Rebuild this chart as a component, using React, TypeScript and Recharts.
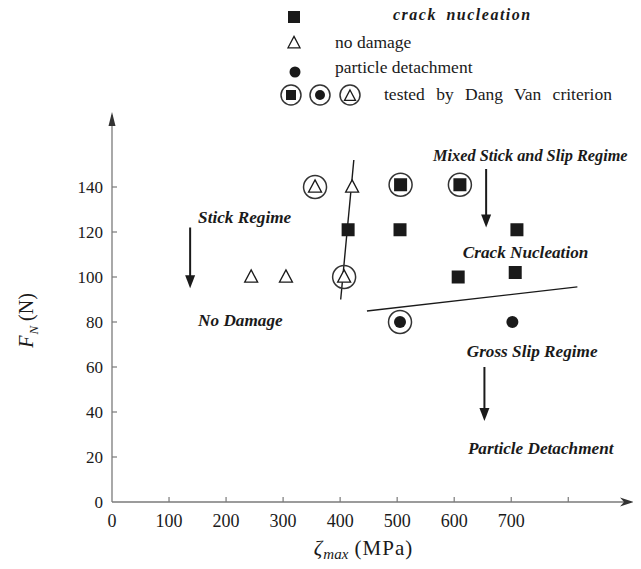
import React from 'react';
import {
  ScatterChart,
  Scatter,
  XAxis,
  YAxis,
  ReferenceLine,
  ReferenceDot,
  Legend,
  Label,
} from 'recharts';

const FONT = '"Liberation Serif", "Times New Roman", Times, serif';
const INK = '#1a1a1a';
const AXIS = '#7a7a7a';

// ---- axis ticks ----
const xTicks = [0, 100, 200, 300, 400, 500, 600, 700, 800];
const xTickLabels = ['0', '100', '200', '300', '400', '500', '600', '700', ''];
const yTicks = [0, 20, 40, 60, 80, 100, 120, 140];
const yTickLabels = ['0', '20', '40', '60', '80', '100', '120', '140'];

// ---- data (x = zeta_max in MPa, y = F_N in N) ----
const crackNucleation = [
  { x: 414, y: 121 },
  { x: 505, y: 121 },
  { x: 710, y: 121 },
  { x: 607, y: 100 },
  { x: 707, y: 102 },
  { x: 506, y: 141 },
  { x: 610, y: 141 },
];
const noDamage = [
  { x: 244, y: 100 },
  { x: 305, y: 100 },
  { x: 407, y: 100 },
  { x: 356, y: 140 },
  { x: 421, y: 140 },
];
const particleDetachment = [
  { x: 505, y: 80 },
  { x: 702, y: 80 },
];
const dangVanTested = [
  { x: 356, y: 140 },
  { x: 407, y: 100 },
  { x: 506, y: 141 },
  { x: 610, y: 141 },
  { x: 505, y: 80 },
];

// regime boundaries
const stickBoundary = [
  { x: 424, y: 152 },
  { x: 401, y: 90 },
];
const grossSlipBoundary = [
  { x: 447, y: 84.9 },
  { x: 816, y: 95.6 },
];

// regime arrows (x, start y, tip y)
const regimeArrows = [
  { x: 137, from: 122, to: 95 },
  { x: 656, from: 148, to: 122 },
  { x: 653, from: 60, to: 36 },
];

// annotation texts (left / baseline anchor in data units)
const annotations = [
  { x: 151, y: 124.1, text: 'Stick Regime', size: 17.2 },
  { x: 151, y: 78.2, text: 'No Damage', size: 17.2 },
  { x: 563, y: 151.7, text: 'Mixed Stick and Slip Regime', size: 16.3 },
  { x: 615, y: 108.3, text: 'Crack Nucleation', size: 17.2 },
  { x: 622, y: 64.6, text: 'Gross Slip Regime', size: 17.2 },
  { x: 624, y: 21.3, text: 'Particle Detachment', size: 17.2 },
];

const legendLabels = [
  'crack nucleation',
  'no damage',
  'particle detachment',
  'tested by Dang Van criterion',
];

const X_MAX = 910;
const Y_MAX = 172;

// ---- marker shapes ----
const squarePath = (cx: number, cy: number, s: number) => (
  <rect x={cx - s / 2} y={cy - s / 2} width={s} height={s} fill={INK} />
);
const trianglePath = (cx: number, cy: number, s: number) => (
  <path
    d={`M${cx},${cy - s * 0.55} L${cx + s / 2},${cy + s * 0.4} L${cx - s / 2},${cy + s * 0.4} Z`}
    fill="#fff"
    stroke={INK}
    strokeWidth={1.3}
  />
);
const circlePath = (cx: number, cy: number, r: number) => (
  <circle cx={cx} cy={cy} r={r} fill={INK} />
);
const ringPath = (cx: number, cy: number, r: number) => (
  <circle cx={cx} cy={cy} r={r} fill="none" stroke="#333" strokeWidth={1.5} />
);

const SquareShape = (p: any) => squarePath(p.cx, p.cy, 13);
const TriangleShape = (p: any) => trianglePath(p.cx, p.cy, 13);
const CircleShape = (p: any) => circlePath(p.cx, p.cy, 6);
const RingShape = (p: any) => ringPath(p.cx, p.cy, 11.5);

// ---- ticks ----
const XTick = (props: any) => {
  const { x, y, payload } = props;
  const i = xTicks.indexOf(payload.value);
  return (
    <g>
      {payload.value !== 0 && (
        <line x1={x} x2={x} y1={y} y2={y - 5} stroke={AXIS} strokeWidth={1.2} />
      )}
      <text x={x} y={y + 25} textAnchor="middle" style={{ fontFamily: FONT }} fontSize={18} fill={INK}>
        {xTickLabels[i]}
      </text>
    </g>
  );
};

const YTick = (props: any) => {
  const { x, y, payload } = props;
  const i = yTicks.indexOf(payload.value);
  return (
    <g>
      {payload.value !== 0 && (
        <line x1={x} x2={x + 5} y1={y} y2={y} stroke={AXIS} strokeWidth={1.2} />
      )}
      <text x={x - 9} y={y + 6} textAnchor="end" style={{ fontFamily: FONT }} fontSize={17} fill={INK}>
        {yTickLabels[i]}
      </text>
    </g>
  );
};

const YLabel = (props: any) => {
  const vb = props.viewBox || { x: 44, y: 107, width: 60, height: 387 };
  const cx = vb.x - 19;
  const cy = vb.y + vb.height / 2 + 12;
  return (
    <text
      x={cx}
      y={cy}
      transform={`rotate(-90, ${cx}, ${cy})`}
      textAnchor="middle"
      style={{ fontFamily: FONT }}
      fill={INK}
      fontSize={20}
    >
      <tspan fontStyle="italic">F</tspan>
      <tspan fontStyle="italic" fontSize={13} dy={5} dx={1}>
        N
      </tspan>
      <tspan dy={-5}> (N)</tspan>
    </text>
  );
};

const XLabel = (props: any) => {
  const vb = props.viewBox || { x: 104, y: 494, width: 519, height: 30 };
  const cx = vb.x + vb.width / 2 - 8;
  const cy = vb.y + 53;
  return (
    <text x={cx} y={cy} textAnchor="middle" style={{ fontFamily: FONT }} fill={INK} fontSize={21}>
      <tspan fontStyle="italic">ζ</tspan>
      <tspan fontStyle="italic" fontSize={15} dy={4} dx={1}>
        max
      </tspan>
      <tspan dy={-4} letterSpacing={1}> (MPa)</tspan>
    </text>
  );
};

const renderLegend = () => (
  <svg width={625} height={110} style={{ display: 'block', overflow: 'visible', fontFamily: FONT }}>
    {squarePath(286, 9, 12)}
    <text x={385} y={12} fontSize={16} fontStyle="italic" fontWeight="bold" letterSpacing={1.5} wordSpacing={4} fill={INK}>
      {legendLabels[0]}
    </text>
    {trianglePath(286, 35, 12)}
    <text x={327} y={40} fontSize={17.5} fill={INK}>
      {legendLabels[1]}
    </text>
    {circlePath(287, 64, 5.5)}
    <text x={327} y={65} fontSize={17.5} fill={INK}>
      {legendLabels[2]}
    </text>
    {ringPath(283, 87, 10)}
    {squarePath(283, 87, 10)}
    {ringPath(312, 87, 10)}
    {circlePath(312, 87, 5)}
    {ringPath(342, 87, 10)}
    {trianglePath(342, 88, 11)}
    <text x={376} y={92} fontSize={17.5} wordSpacing={7} fill={INK}>
      {legendLabels[3]}
    </text>
  </svg>
);

const AnnotationText = (text: string, size: number) => (p: any) => (
  <text x={p.cx} y={p.cy} style={{ fontFamily: FONT }} fontSize={size} fontStyle="italic" fontWeight="bold" fill={INK}>
    {text}
  </text>
);

const DownArrowHead = (p: any) => (
  <path d={`M${p.cx},${p.cy} L${p.cx + 5},${p.cy - 13} L${p.cx - 5},${p.cy - 13} Z`} fill={INK} />
);
const UpAxisHead = (p: any) => (
  <path d={`M${p.cx},${p.cy - 3} L${p.cx + 3.5},${p.cy + 11} L${p.cx - 3.5},${p.cy + 11} Z`} fill="#333" />
);
const RightAxisHead = (p: any) => (
  <path
    d={`M${p.cx + 3},${p.cy} L${p.cx - 11},${p.cy - 4.5} L${p.cx - 7},${p.cy} L${p.cx - 11},${p.cy + 4.5} Z`}
    fill="#333"
  />
);

export default function App() {
  return (
    <ScatterChart
      width={625}
      height={553}
      margin={{ top: 107, right: 2, bottom: 29, left: 44 }}
      style={{ fontFamily: FONT }}
    >
      <XAxis
        type="number"
        dataKey="x"
        domain={[0, X_MAX]}
        ticks={xTicks}
        tick={XTick}
        tickLine={false}
        tickSize={0}
        tickMargin={0}
        height={30}
        axisLine={{ stroke: AXIS, strokeWidth: 1.3 }}
        interval={0}
        label={<Label content={XLabel} />}
      />
      <YAxis
        type="number"
        dataKey="y"
        domain={[0, Y_MAX]}
        ticks={yTicks}
        tick={YTick}
        tickLine={false}
        tickSize={0}
        tickMargin={0}
        width={60}
        axisLine={{ stroke: AXIS, strokeWidth: 1.3 }}
        interval={0}
        label={<Label content={YLabel} />}
      />
      <Legend
        layout="horizontal"
        verticalAlign="middle"
        align="center"
        content={renderLegend}
        wrapperStyle={{ top: 0, left: 0, width: 625, height: 110, margin: 0, padding: 0 }}
      />

      <ReferenceDot x={0} y={Y_MAX} r={0} ifOverflow="visible" shape={UpAxisHead} />
      <ReferenceDot x={X_MAX} y={0} r={0} ifOverflow="visible" shape={RightAxisHead} />

      <ReferenceLine segment={stickBoundary} stroke={INK} strokeWidth={1.4} ifOverflow="visible" />
      <ReferenceLine segment={grossSlipBoundary} stroke={INK} strokeWidth={1.4} ifOverflow="visible" />

      {regimeArrows.map((a, i) => (
        <ReferenceLine
          key={`ar${i}`}
          segment={[
            { x: a.x, y: a.from },
            { x: a.x, y: a.to + 4 },
          ]}
          stroke={INK}
          strokeWidth={2}
          ifOverflow="visible"
        />
      ))}
      {regimeArrows.map((a, i) => (
        <ReferenceDot key={`ah${i}`} x={a.x} y={a.to} r={0} ifOverflow="visible" shape={DownArrowHead} />
      ))}

      {annotations.map((a, i) => (
        <ReferenceDot
          key={`an${i}`}
          x={a.x}
          y={a.y}
          r={0}
          ifOverflow="visible"
          shape={AnnotationText(a.text, a.size)}
        />
      ))}

      <Scatter name={legendLabels[0]} data={crackNucleation} shape={SquareShape} isAnimationActive={false} />
      <Scatter name={legendLabels[1]} data={noDamage} shape={TriangleShape} isAnimationActive={false} />
      <Scatter name={legendLabels[2]} data={particleDetachment} shape={CircleShape} isAnimationActive={false} />
      <Scatter name={legendLabels[3]} data={dangVanTested} shape={RingShape} isAnimationActive={false} />
    </ScatterChart>
  );
}
